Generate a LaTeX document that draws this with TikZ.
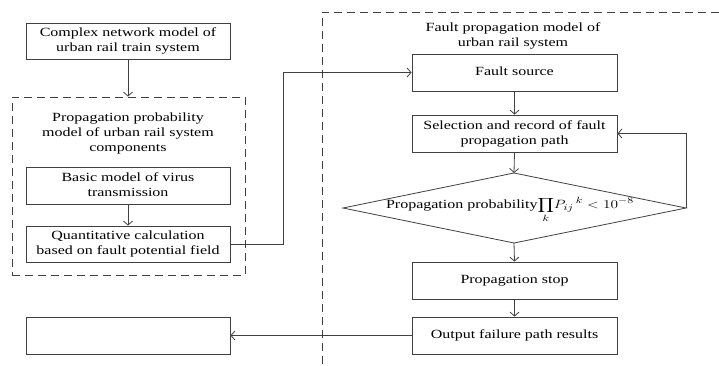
\documentclass[tikz,border=0pt]{standalone}
\usepackage{fontspec}
\setmainfont{Liberation Serif}
\usepackage{graphicx}
\usetikzlibrary{arrows.meta}
\newcommand{\tx}[1]{\scalebox{1.28}[1]{\fontsize{12.5pt}{15pt}\selectfont\begin{tabular}{@{}c@{}}#1\end{tabular}}}
\tikzset{
  ln/.style={draw=black!75, line width=0.8pt},
  arr/.style={ln, -{Straight Barb[length=4pt,width=9pt]}},
  boxl/.style={ln, rectangle, minimum width=204pt, minimum height=36pt, inner sep=0pt},
  boxr/.style={ln, rectangle, minimum width=205pt, minimum height=37pt, inner sep=0pt},
  dsh/.style={draw=black!75, line width=0.8pt, dash pattern=on 8pt off 5pt},
  lbl/.style={inner sep=0pt}
}
\begin{document}
\begin{tikzpicture}[x=1pt,y=-1pt]
\useasboundingbox (0,0) rectangle (719,365);
% left group
\node[boxl] (cn) at (128,41) {\tx{Complex network model of\\urban rail train system}};
\node[dsh, rectangle, minimum width=233pt, minimum height=178pt, inner sep=0pt] (pbox) at (128.5,186) {};
\node[lbl] (ptitle) at (128,133) {\tx{Propagation probability\\model of urban rail system\\components}};
\node[boxl, minimum height=37pt] (bm) at (128,185.5) {\tx{Basic model of virus\\transmission}};
\node[boxl] (qc) at (128,244) {\tx{Quantitative calculation\\based on fault potential field}};
\node[boxl, minimum height=37pt] (empty) at (128,335.5) {};
% right group
\draw[dsh] (719,12) -- (322,12) -- (322,365);
\node[lbl] (rtitle) at (513,35.5) {\tx{Fault propagation model of\\urban rail system}};
\node[boxr] (fs) at (514.5,72.5) {\tx{Fault source}};
\node[boxr] (sel) at (514.5,133.5) {\tx{Selection and record of fault\\propagation path}};
\coordinate (dT) at (514,173);
\coordinate (dL) at (343,208);
\coordinate (dR) at (686,208);
\coordinate (dB) at (514,243);
\draw[ln, fill=white] (dT) -- (dR) -- (dB) -- (dL) -- cycle;
\node[lbl] (dtxt) at (510,210) {\tx{Propagation probability$\displaystyle\prod_{k}\! P_{ij}{}^{\,k} < 10^{-8}$}};
\node[boxr] (ps) at (514.5,280.5) {\tx{Propagation stop}};
\node[boxr] (out) at (514.5,335.5) {\tx{Output failure path results}};
% connectors
\draw[arr] (cn.south) -- (cn.south |- pbox.north);
\draw[arr] (bm.south) -- (qc.north);
\coordinate (qcturn) at (283,244);
\draw[arr] (qc.east) -- (qcturn) |- (fs.west);
\draw[arr] (fs.south) -- (sel.north);
\draw[arr] (sel.south) -- (dT);
\draw[arr] (dR) |- (sel.east);
\draw[arr] (dB) -- (ps.north);
\draw[arr] (ps.south) -- (out.north);
\draw[arr] (out.west) -- (empty.east);
\end{tikzpicture}
\end{document}
